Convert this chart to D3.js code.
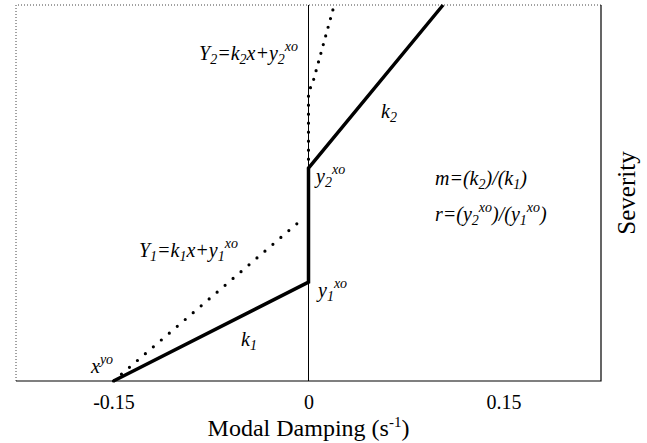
<!DOCTYPE html>
<html>
<head>
<meta charset="utf-8">
<script src="https://cdn.jsdelivr.net/npm/d3@7"></script>
<style>
  svg text, svg tspan { font-family: "Liberation Serif", Tinos, "Times New Roman", Times, serif !important; }
</style>
</head>
<body style="margin:0">
<div class="chart"></div>
<script>
// x: modal damping (1/s), y: severity (0..1, no scale shown)
const xTicks = [-0.15, 0, 0.15]
const tickLabels = ['-0.15', '0', '0.15']

// piecewise model (solid)
const modelX = [-0.15, 0, 0, 0.1035]
const modelY = [0, 0.263, 0.566, 1]

// Y1 = k1 x + y1xo (dotted)
const line1X = [-0.15, -0.0065]
const line1Y = [0, 0.4255]

// Y2 = k2 x + y2xo (dotted)
const line2X = [0, 0, 0.003, 0.019]
const line2Y = [0.566, 0.77, 0.79, 0.99]

// annotations, anchored in data units
const noteText = ['Y_2=k_2x+y_2^{xo}', 'k_2', 'y_2^{xo}', 'm=(k_2)/(k_1)', 'r=(y_2^{xo})/(y_1^{xo})',
  'Y_1=k_1x+y_1^{xo}', 'y_1^{xo}', 'k_1', 'x^{yo}']
const noteX = [-0.0842, 0.0558, 0.0058, 0.0973, 0.0973, -0.1304, 0.0073, -0.0519, -0.1673]
const noteY = [0.854, 0.699, 0.527, 0.521, 0.4255, 0.330, 0.2234, 0.0931, 0.0213]

const width = 647, height = 443
const pl = 16, pr = 601, pt = 5, pb = 381

const svg = d3.select('.chart').append('svg')
  .attr('width', width)
  .attr('height', height)
  .style('display', 'block')

const x = d3.scaleLinear().domain([-0.225, 0.225]).range([pl, pr])
const y = d3.scaleLinear().domain([0, 1]).range([pb, pt])

const line = d3.line().x(d => x(d[0])).y(d => y(d[1]))

const serif = sel => sel.style('font-family', '"Liberation Serif"', 'important')

// frame: dotted top/left, solid right/bottom
svg.append('path')
  .attr('d', `M${pl},${pb}V${pt}H${pr}`)
  .attr('fill', 'none')
  .attr('stroke', '#444')
  .attr('stroke-dasharray', '1 2')

svg.append('path')
  .attr('d', `M${pl},${pb}H${pr}V${pt}`)
  .attr('fill', 'none')
  .attr('stroke', '#000')
  .attr('stroke-width', 1.2)

// zero line
svg.append('line')
  .attr('x1', x(0)).attr('x2', x(0))
  .attr('y1', y(0)).attr('y2', y(1))
  .attr('stroke', '#000')

// x axis labels only
const xAxis = d3.axisBottom(x)
  .tickValues(xTicks)
  .tickFormat((d, i) => tickLabels[i])
  .tickSize(0)
  .tickPadding(14)

svg.append('g')
  .attr('transform', `translate(0,${pb})`)
  .call(xAxis)
  .call(g => g.select('.domain').remove())
  .attr('font-family', null)
  .attr('font-size', 20)
  .selectAll('text')
  .call(serif)
  .attr('font-size', 20)
  .attr('fill', '#000')

const title = svg.append('text')
  .call(serif)
  .attr('x', x(0))
  .attr('y', 436)
  .attr('text-anchor', 'middle')
  .attr('font-size', 24)
title.append('tspan').text('Modal Damping (s')
title.append('tspan').attr('dy', -9).attr('font-size', 15).text('-1')
title.append('tspan').attr('dy', 9).text(')')

svg.append('text')
  .call(serif)
  .attr('transform', `translate(635,${y(0.5)}) rotate(-90)`)
  .attr('text-anchor', 'middle')
  .attr('font-size', 25)
  .text('Severity')

// lines
svg.append('path')
  .datum(d3.zip(line1X, line1Y))
  .attr('d', line)
  .attr('fill', 'none')
  .attr('stroke', '#000')
  .attr('stroke-width', 3.2)
  .attr('stroke-linecap', 'round')
  .attr('stroke-dasharray', '0 10.5')

svg.append('path')
  .datum(d3.zip(line2X, line2Y))
  .attr('d', line)
  .attr('fill', 'none')
  .attr('stroke', '#000')
  .attr('stroke-width', 3.2)
  .attr('stroke-linecap', 'round')
  .attr('stroke-dasharray', '0 9')

svg.append('path')
  .datum(d3.zip(modelX, modelY))
  .attr('d', line)
  .attr('fill', 'none')
  .attr('stroke', '#000')
  .attr('stroke-width', 3.5)
  .attr('stroke-linejoin', 'miter')

// tiny parser for "a_2^{xo}" style labels
const parse = s => {
  let out = [], i = 0
  while (i < s.length) {
    let c = s[i]
    if (c === '_' || c === '^') {
      let kind = c === '_' ? 'sub' : 'sup'
      let body
      if (s[i + 1] === '{') {
        let j = s.indexOf('}', i)
        body = s.slice(i + 2, j)
        i = j + 1
      } else {
        body = s[i + 1]
        i += 2
      }
      out.push([body, kind])
    } else {
      let j = i
      while (j < s.length && s[j] !== '_' && s[j] !== '^') j++
      out.push([s.slice(i, j), 'n'])
      i = j
    }
  }
  return out
}

const size = 20
noteText.forEach((s, k) => {
  let t = svg.append('text')
    .call(serif)
    .attr('x', x(noteX[k]))
    .attr('y', y(noteY[k]))
    .style('font-style', 'italic')
    .attr('font-size', size)
  let off = 0
  parse(s).forEach(([str, kind]) => {
    let target = kind === 'sub' ? 4 : kind === 'sup' ? -9 : 0
    t.append('tspan')
      .attr('dy', target - off)
      .attr('font-size', kind === 'n' ? size : 14)
      .text(str)
    off = target
  })
})
</script>
</body>
</html>
